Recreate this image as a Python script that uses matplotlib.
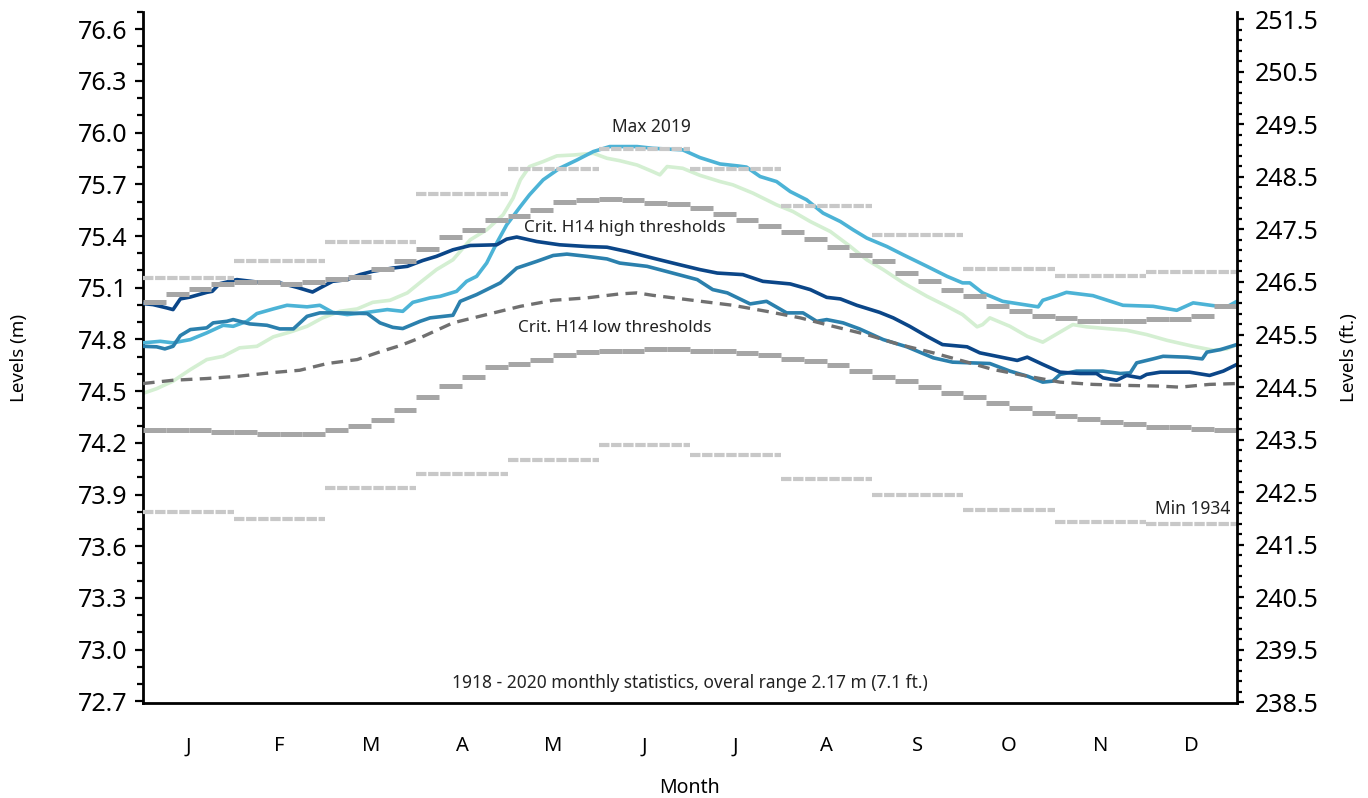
import matplotlib
matplotlib.use('Agg')
import matplotlib.pyplot as plt
from matplotlib.ticker import FixedLocator, MultipleLocator, FormatStrFormatter
import numpy as np

plt.rcParams['font.family'] = ['Noto Sans', 'DejaVu Sans']

M_TO_FT = 3.28084

months = ['J', 'F', 'M', 'A', 'M', 'J', 'J', 'A', 'S', 'O', 'N', 'D']

# monthly extremes 1918-2020 (m)
month_max = [75.158, 75.257, 75.365, 75.642, 75.790, 75.903, 75.789, 75.576,
             75.403, 75.210, 75.166, 75.189]
month_min = [73.800, 73.760, 73.940, 74.020, 74.100, 74.186, 74.127, 73.990,
             73.897, 73.810, 73.740, 73.730]

# quarter-monthly H14 thresholds (m)
h14_high = [75.015, 75.065, 75.090, 75.123, 75.135, 75.135, 75.123, 75.135,
            75.152, 75.164, 75.210, 75.257, 75.326, 75.392, 75.436, 75.494,
            75.517, 75.552, 75.600, 75.610, 75.617, 75.610, 75.594, 75.587,
            75.563, 75.529, 75.494, 75.459, 75.424, 75.384, 75.338, 75.291,
            75.257, 75.187, 75.141, 75.089, 75.054, 74.996, 74.963, 74.938,
            74.927, 74.909, 74.909, 74.909, 74.921, 74.921, 74.938, 74.996]
h14_low = [74.272, 74.272, 74.272, 74.260, 74.260, 74.249, 74.249, 74.249,
           74.272, 74.296, 74.330, 74.388, 74.464, 74.529, 74.579, 74.637,
           74.660, 74.683, 74.712, 74.726, 74.735, 74.735, 74.747, 74.743,
           74.735, 74.733, 74.724, 74.708, 74.689, 74.672, 74.649, 74.614,
           74.579, 74.556, 74.521, 74.487, 74.465, 74.430, 74.400, 74.375,
           74.353, 74.340, 74.318, 74.307, 74.294, 74.294, 74.282, 74.272]

# long-term mean (dashed)
avg_x = [0, 0.33, 0.70, 1.06, 1.43, 1.72, 2.02, 2.35, 2.60, 2.82, 3.04, 3.40,
         3.77, 4.14, 4.50, 4.87, 5.23, 5.42, 5.59, 5.97, 6.47, 6.84, 7.21,
         7.57, 7.94, 8.30, 8.67, 9.04, 9.32, 9.70, 10.06, 10.42, 10.79, 11.16,
         11.37, 11.70, 12.0]
avg_y = [74.544, 74.563, 74.573, 74.587, 74.608, 74.621, 74.660, 74.683,
         74.728, 74.764, 74.809, 74.896, 74.944, 74.992, 75.027, 75.041,
         75.064, 75.070, 75.056, 75.031, 74.998, 74.963, 74.925, 74.876,
         74.828, 74.770, 74.722, 74.668, 74.626, 74.587, 74.552, 74.539,
         74.533, 74.529, 74.523, 74.539, 74.544]

navy_x = [0, 0.11, 0.26, 0.33, 0.41, 0.52, 0.70, 0.76, 0.84, 1.03, 1.25, 1.50,
          1.69, 1.86, 1.94, 2.08, 2.24, 2.38, 2.52, 2.74, 2.90, 3.07, 3.22,
          3.40, 3.59, 3.88, 3.99, 4.10, 4.32, 4.57, 4.87, 5.09, 5.31, 5.59,
          5.89, 6.11, 6.30, 6.58, 6.80, 7.10, 7.32, 7.50, 7.65, 7.83, 8.08,
          8.23, 8.41, 8.60, 8.77, 9.04, 9.18, 9.32, 9.59, 9.70, 9.87, 10.06,
          10.28, 10.46, 10.53, 10.68, 10.79, 10.94, 11.01, 11.16, 11.48, 11.70,
          11.85, 12.0]
navy_y = [75.008, 75.002, 74.983, 74.973, 75.035, 75.046, 75.073, 75.079,
          75.123, 75.147, 75.133, 75.128, 75.102, 75.075, 75.098, 75.137,
          75.147, 75.176, 75.195, 75.214, 75.224, 75.258, 75.282, 75.320,
          75.345, 75.349, 75.382, 75.394, 75.368, 75.349, 75.339, 75.335,
          75.310, 75.272, 75.233, 75.205, 75.185, 75.176, 75.137, 75.122,
          75.089, 75.044, 75.035, 74.998, 74.957, 74.925, 74.876, 74.818,
          74.770, 74.757, 74.722, 74.707, 74.678, 74.697, 74.655, 74.610,
          74.602, 74.602, 74.577, 74.563, 74.591, 74.577, 74.597, 74.610,
          74.610, 74.591, 74.616, 74.655]

mid_x = [0, 0.15, 0.24, 0.33, 0.41, 0.52, 0.70, 0.77, 0.92, 0.99, 1.17, 1.36,
         1.50, 1.65, 1.80, 1.94, 2.16, 2.46, 2.60, 2.74, 2.85, 3.04, 3.15,
         3.40, 3.48, 3.66, 3.92, 4.10, 4.32, 4.50, 4.65, 4.87, 5.09, 5.23,
         5.53, 5.81, 6.08, 6.25, 6.41, 6.66, 6.84, 7.06, 7.24, 7.39, 7.50,
         7.68, 7.86, 8.12, 8.38, 8.67, 8.88, 9.29, 9.51, 9.70, 9.87, 9.98,
         10.06, 10.24, 10.53, 10.72, 10.83, 10.90, 11.08, 11.19, 11.45, 11.62,
         11.67, 11.82, 12.0]
mid_y = [74.760, 74.757, 74.745, 74.760, 74.822, 74.857, 74.867, 74.896,
         74.905, 74.915, 74.890, 74.882, 74.861, 74.861, 74.934, 74.954,
         74.954, 74.950, 74.896, 74.870, 74.863, 74.905, 74.925, 74.940,
         75.021, 75.060, 75.128, 75.214, 75.253, 75.287, 75.295, 75.282,
         75.267, 75.243, 75.224, 75.185, 75.147, 75.089, 75.070, 75.006,
         75.021, 74.954, 74.954, 74.905, 74.915, 74.896, 74.861, 74.799,
         74.757, 74.693, 74.668, 74.660, 74.616, 74.587, 74.552, 74.558,
         74.597, 74.616, 74.616, 74.602, 74.606, 74.664, 74.687, 74.702,
         74.697, 74.687, 74.726, 74.741, 74.770]

# 2019 (max year)
light_x = [0, 0.19, 0.33, 0.52, 0.70, 0.88, 0.99, 1.14, 1.25, 1.43, 1.58,
           1.80, 1.94, 2.08, 2.24, 2.46, 2.68, 2.85, 2.96, 3.15, 3.26, 3.44,
           3.55, 3.66, 3.77, 3.88, 3.99, 4.14, 4.24, 4.39, 4.57, 4.76, 4.94,
           5.12, 5.42, 5.59, 5.92, 6.11, 6.33, 6.52, 6.62, 6.77, 6.95, 7.10,
           7.28, 7.46, 7.65, 7.79, 7.94, 8.16, 8.34, 8.60, 8.82, 8.99, 9.07,
           9.21, 9.43, 9.54, 9.82, 9.87, 10.03, 10.13, 10.42, 10.75, 11.08,
           11.34, 11.52, 11.74, 11.89, 12.0]
light_y = [74.780, 74.789, 74.780, 74.799, 74.838, 74.882, 74.876, 74.905,
           74.950, 74.977, 74.998, 74.989, 74.998, 74.957, 74.944, 74.957,
           74.973, 74.963, 75.015, 75.041, 75.050, 75.079, 75.137, 75.166,
           75.243, 75.359, 75.465, 75.571, 75.639, 75.726, 75.793, 75.841,
           75.890, 75.919, 75.919, 75.909, 75.900, 75.855, 75.818, 75.807,
           75.800, 75.745, 75.716, 75.658, 75.610, 75.533, 75.484, 75.436,
           75.388, 75.339, 75.291, 75.224, 75.166, 75.128, 75.128, 75.070,
           75.021, 75.012, 74.989, 75.027, 75.054, 75.073, 75.054, 74.998,
           74.992, 74.969, 75.012, 74.996, 74.989, 75.021]

green_x = [0, 0.15, 0.33, 0.52, 0.70, 0.88, 1.06, 1.25, 1.43, 1.61, 1.80, 1.97,
           2.16, 2.35, 2.52, 2.71, 2.90, 3.04, 3.22, 3.40, 3.59, 3.77, 3.95,
           4.06, 4.14, 4.24, 4.39, 4.54, 4.72, 4.94, 5.09, 5.23, 5.42, 5.59,
           5.67, 5.75, 5.92, 6.11, 6.33, 6.47, 6.69, 6.95, 7.13, 7.32, 7.54,
           7.75, 7.94, 8.12, 8.34, 8.60, 8.82, 8.99, 9.15, 9.21, 9.29, 9.51,
           9.70, 9.87, 9.98, 10.20, 10.35, 10.61, 10.79, 11.01, 11.23, 11.52,
           11.74, 11.89, 12.0]
green_y = [74.487, 74.514, 74.558, 74.625, 74.683, 74.702, 74.751, 74.760,
           74.815, 74.842, 74.876, 74.925, 74.963, 74.977, 75.015, 75.027,
           75.070, 75.130, 75.205, 75.262, 75.378, 75.436, 75.523, 75.620,
           75.726, 75.803, 75.832, 75.865, 75.870, 75.880, 75.851, 75.837,
           75.812, 75.774, 75.755, 75.803, 75.793, 75.752, 75.716, 75.697,
           75.649, 75.581, 75.542, 75.484, 75.426, 75.343, 75.262, 75.205,
           75.128, 75.050, 74.992, 74.944, 74.873, 74.886, 74.925, 74.876,
           74.818, 74.784, 74.818, 74.886, 74.873, 74.861, 74.853, 74.828,
           74.795, 74.760, 74.737, 74.745, 74.770]

fig = plt.figure(figsize=(13.68, 7.98), dpi=100)
ax = fig.add_axes([0.1045, 0.119, 0.7997, 0.866])

ax.plot(green_x, green_y, color='#d4efd2', lw=2.6, zorder=2)
ax.plot(light_x, light_y, color='#4cb3d6', lw=2.6, zorder=3)
ax.plot(mid_x, mid_y, color='#2b80ad', lw=2.6, zorder=3)
ax.plot(navy_x, navy_y, color='#0b4688', lw=2.6, zorder=3)
ax.plot(avg_x, avg_y, color='#707070', lw=2.4, ls=(0, (3.5, 2.2)), zorder=4)

# monthly statistics as horizontal steps
m0 = np.arange(12)
ax.hlines(month_max, m0, m0 + 1, color='#c8c8c8', lw=3, ls=(0, (2.5, 0.4)), zorder=5)
ax.hlines(month_min, m0, m0 + 1, color='#c8c8c8', lw=3, ls=(0, (2.5, 0.4)), zorder=5)
q0 = np.arange(48) / 4
ax.hlines(h14_high, q0, q0 + 0.25, color='#a6a6a6', lw=3.6, zorder=5)
ax.hlines(h14_low, q0, q0 + 0.25, color='#a6a6a6', lw=3.6, zorder=5)

txt = dict(ha='center', va='center', color='#222222')
ax.text(5.58, 76.03, 'Max 2019', fontsize=12.5, **txt)
ax.text(5.29, 75.448, 'Crit. H14 high thresholds', fontsize=12.3, **txt)
ax.text(5.18, 74.869, 'Crit. H14 low thresholds', fontsize=12.3, **txt)
ax.text(11.93, 73.815, 'Min 1934', fontsize=12.5, ha='right', va='center', color='#222222')
ax.text(6.0, 72.807, '1918 - 2020 monthly statistics, overal range 2.17 m (7.1 ft.)',
        fontsize=12.5, **txt)

ylo, yhi = 72.69, 76.7
ax.set_xlim(0, 12)
ax.set_ylim(ylo, yhi)
ax.set_xticks(m0 + 0.5)
ax.set_xticklabels(months)
ax.tick_params(axis='x', length=0, pad=24, labelsize=14.5)
ax.yaxis.set_major_locator(FixedLocator(np.arange(72.7, 76.65, 0.3)))
ax.yaxis.set_major_formatter(FormatStrFormatter('%.1f'))
ax.yaxis.set_minor_locator(MultipleLocator(0.1))
ax.tick_params(axis='y', which='major', length=6, width=1.6, labelsize=18, pad=5)
ax.tick_params(axis='y', which='minor', length=4.5, width=1.6)

for s in ['left', 'bottom']:
    ax.spines[s].set_linewidth(2)
ax.spines['top'].set_visible(False)
ax.spines['right'].set_visible(False)

ax.set_xlabel('Month', fontsize=14)
ax.xaxis.set_label_coords(0.5, -0.108)
ax.set_ylabel('Levels (m)', fontsize=13.5)
ax.yaxis.set_label_coords(-0.105, 0.5)

# right axis in feet
ax2 = ax.twinx()
ax2.set_ylim(ylo * M_TO_FT, yhi * M_TO_FT)
ax2.yaxis.set_major_locator(FixedLocator(np.arange(238.5, 251.6, 1.0)))
ax2.yaxis.set_major_formatter(FormatStrFormatter('%.1f'))
ax2.yaxis.set_minor_locator(FixedLocator(np.arange(238.5, 251.7, 0.2)))
ax2.tick_params(axis='y', which='major', length=5, width=1.6, labelsize=18, pad=8)
ax2.tick_params(axis='y', which='minor', length=3.5, width=1.6)
ax2.spines['right'].set_linewidth(2)
for s in ['left', 'top', 'bottom']:
    ax2.spines[s].set_visible(False)
ax2.set_ylabel('Levels (ft.)', fontsize=13.5)
ax2.yaxis.set_label_coords(1.094, 0.5)

fig.savefig('out.png', dpi=100)
